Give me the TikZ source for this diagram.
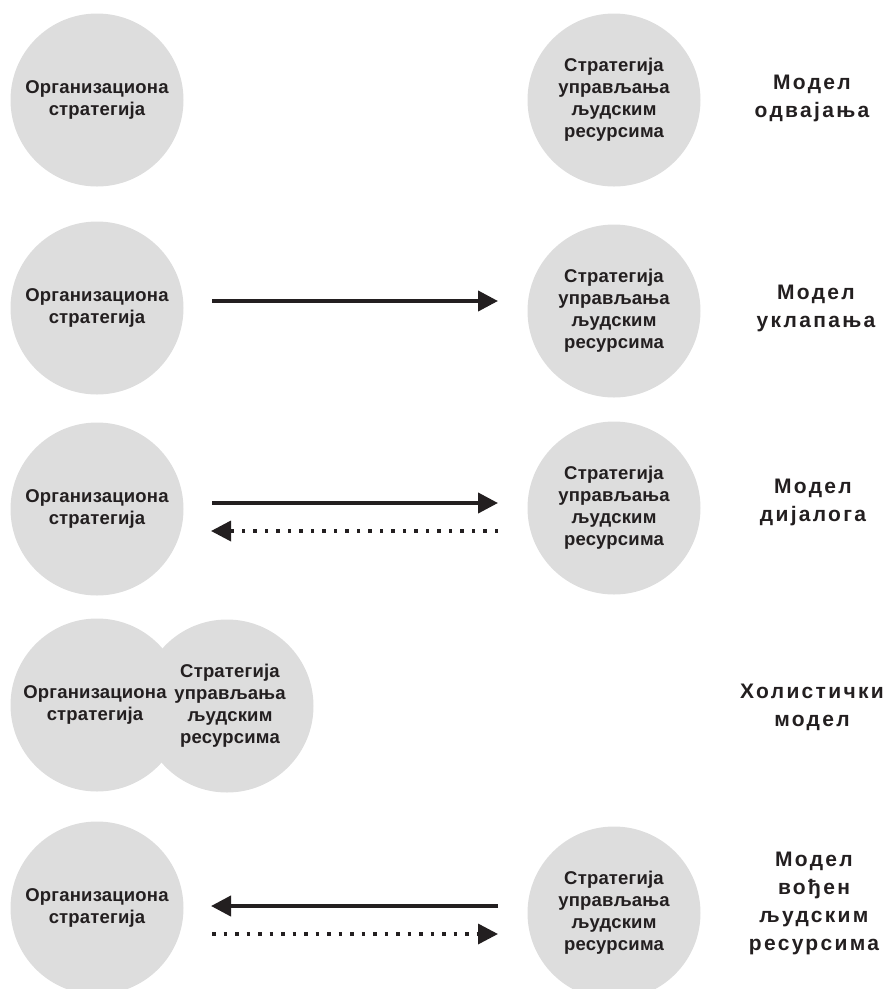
\documentclass[tikz,border=0pt]{standalone}
\usepackage{fontspec}
\setmainfont{Liberation Sans}
\newfontfamily\lblfont[LetterSpace=11]{Liberation Sans}
\newfontfamily\circfont[LetterSpace=1]{Liberation Sans}
\usetikzlibrary{arrows.meta}
\definecolor{circfill}{RGB}{221,221,221}
\definecolor{ink}{RGB}{35,31,32}
\begin{document}
\begin{tikzpicture}[x=1pt,y=-1pt,
  strat/.style={circle, fill=circfill, minimum size=173pt, inner sep=0pt, align=center, text=ink,
    font=\circfont\bfseries\fontsize{18.5}{22}\selectfont},
  ctext/.style={text=ink, align=center, inner sep=0pt, font=\circfont\bfseries\fontsize{18.5}{22}\selectfont},
  lbl/.style={align=center, text=ink, font=\lblfont\bfseries\fontsize{21}{28}\selectfont},
  solidarrow/.style={draw=ink, line width=4pt, -{Triangle[length=20pt,width=20pt]}},
  dotarrow/.style={draw=ink, line width=3.5pt, dash pattern=on 3.5pt off 8pt, -{Triangle[length=20pt,width=20pt]}}]
\useasboundingbox (0,0) rectangle (889,989);
\clip (0,0) rectangle (889,989);

% Row 1: Model odvajanja
\node[strat] (o1) at (97,100) {Организациона\\стратегија};
\node[strat] (h1) at (614,100) {Стратегија\\управљања\\људским\\ресурсима};
\node[lbl] (m1) at (812,98) {Модел\\одвајања};

% Row 2: Model uklapanja
\node[strat] (o2) at (97,308) {Организациона\\стратегија};
\node[strat] (h2) at (614,311) {Стратегија\\управљања\\људским\\ресурсима};
\node[lbl] (m2) at (816,308) {Модел\\уклапања};
\coordinate (a2s) at (212,301);
\coordinate (a2e) at (498,301);
\draw[solidarrow] (a2s) -- (a2e);

% Row 3: Model dijaloga
\node[strat] (o3) at (97,509) {Организациона\\стратегија};
\node[strat] (h3) at (614,508) {Стратегија\\управљања\\људским\\ресурсима};
\node[lbl] (m3) at (813,502) {Модел\\дијалога};
\coordinate (a3s) at (212,503);
\coordinate (a3e) at (498,503);
\coordinate (d3s) at (498,531);
\coordinate (d3e) at (211,531);
\draw[solidarrow] (a3s) -- (a3e);
\draw[dotarrow] (d3s) -- (d3e);

% Row 4: Holisticki model
\node[strat] (o4) at (97,705) {};
\node[strat] (h4) at (227,706) {};
\node[ctext] (o4t) at (95,705) {Организациона\\стратегија};
\node[ctext] (h4t) at (230,706) {Стратегија\\управљања\\људским\\ресурсима};
\node[lbl] (m4) at (812,707) {Холистички\\модел};

% Row 5: Model vodjen ljudskim resursima
\node[strat] (o5) at (97,908) {Организациона\\стратегија};
\node[strat] (h5) at (614,913) {Стратегија\\управљања\\људским\\ресурсима};
\node[lbl] (m5) at (814,903) {Модел\\вођен\\људским\\ресурсима};
\coordinate (a5s) at (498,906);
\coordinate (a5e) at (211,906);
\coordinate (d5s) at (212,934);
\coordinate (d5e) at (498,934);
\draw[solidarrow] (a5s) -- (a5e);
\draw[dotarrow] (d5s) -- (d5e);
\end{tikzpicture}
\end{document}
